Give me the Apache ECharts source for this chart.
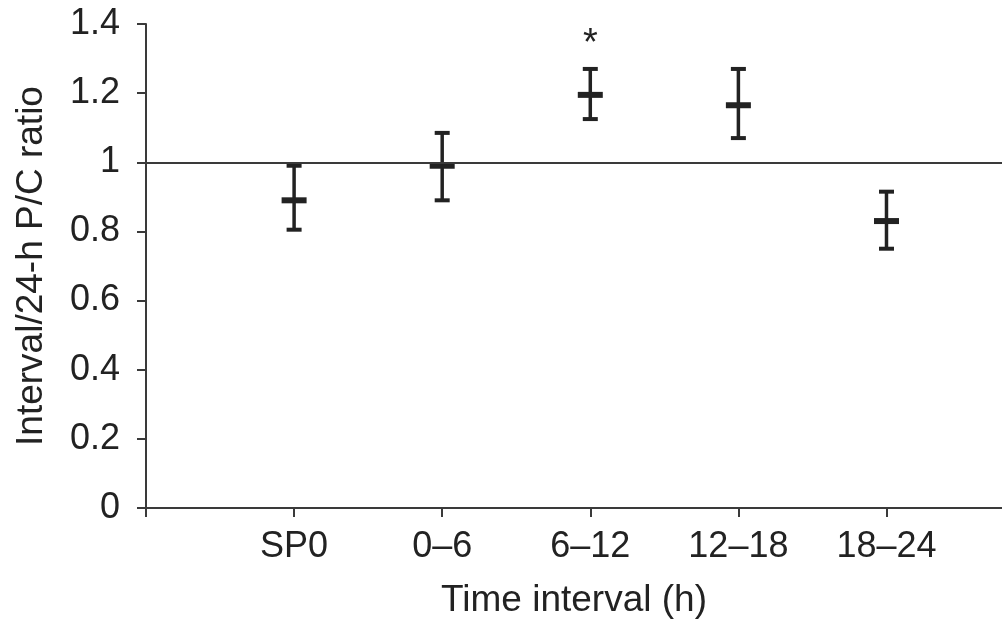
<!DOCTYPE html>
<html>
<head>
<meta charset="utf-8">
<script src="https://cdn.jsdelivr.net/npm/echarts@6/dist/echarts.min.js"></script>
<style>
html,body{margin:0;padding:0;background:#fff;}
#main{width:1002px;height:624px;}
</style>
</head>
<body>
<div id="main"></div>
<script>
const categories = ['SP0', '0–6', '6–12', '12–18', '18–24'];
const means = [0.89, 0.99, 1.195, 1.165, 0.83];
const lower = [0.805, 0.89, 1.125, 1.07, 0.75];
const upper = [0.99, 1.085, 1.27, 1.27, 0.915];
const significance = ['', '', '*', '', ''];
const referenceValue = 1;
const yTickLabels = ['0', '0.2', '0.4', '0.6', '0.8', '1', '1.2', '1.4'];

const FONT = '"Liberation Sans", Arial, Helvetica, sans-serif';
const INK = '#222';
const AXIS = '#3a3a3a';

const chart = echarts.init(document.getElementById('main'), null, {renderer: 'canvas'});

const data = categories.map((c, i) => [i + 1, means[i], lower[i], upper[i], significance[i]]);

chart.setOption({
  animation: false,
  backgroundColor: '#fff',
  grid: {left: 146, right: 0, top: 24, bottom: 116, containLabel: false, outerBoundsMode: 'none'},
  xAxis: {
    type: 'value',
    min: 0,
    max: 5.78,
    interval: 1,
    name: 'Time interval (h)',
    nameLocation: 'middle',
    nameGap: 74,
    nameTextStyle: {fontFamily: FONT, fontSize: 37, color: INK},
    axisLine: {show: true, lineStyle: {color: AXIS, width: 2}},
    axisTick: {show: true, length: 9, lineStyle: {color: AXIS, width: 2}},
    axisLabel: {
      margin: 21,
      fontFamily: FONT, fontSize: 36, color: INK,
      showMaxLabel: false,
      formatter: v => {
        const i = Math.round(v) - 1;
        return (Math.abs(v - Math.round(v)) < 1e-6 && i >= 0 && i < categories.length) ? categories[i] : '';
      }
    },
    splitLine: {show: false}
  },
  yAxis: {
    type: 'value',
    min: 0,
    max: 1.4,
    interval: 0.2,
    name: 'Interval/24-h P/C ratio',
    nameLocation: 'middle',
    nameGap: 96,
    nameRotate: 90,
    nameTextStyle: {fontFamily: FONT, fontSize: 37, color: INK},
    axisLine: {show: true, lineStyle: {color: AXIS, width: 2}},
    axisTick: {show: true, length: 9, lineStyle: {color: AXIS, width: 2}},
    axisLabel: {
      margin: 26,
      fontFamily: FONT, fontSize: 36, color: INK,
      formatter: v => {
        const i = Math.round(v / 0.2);
        return yTickLabels[i] !== undefined ? yTickLabels[i] : '';
      }
    },
    splitLine: {show: false}
  },
  series: [{
    type: 'custom',
    clip: false,
    data: data,
    encode: {x: 0, y: [1, 2, 3]},
    renderItem: function (params, api) {
      const x = api.value(0);
      const pm = api.coord([x, api.value(1)]);
      const pl = api.coord([x, api.value(2)]);
      const ph = api.coord([x, api.value(3)]);
      const sig = significance[params.dataIndex];
      const capW = 15, meanW = 25, meanH = 6;
      const style = {stroke: INK, lineWidth: 3.5};
      const children = [
        {type: 'line', shape: {x1: pm[0], y1: ph[1], x2: pm[0], y2: pl[1]}, style: style},
        {type: 'line', shape: {x1: pm[0] - capW / 2, y1: ph[1], x2: pm[0] + capW / 2, y2: ph[1]}, style: {stroke: INK, lineWidth: 4}},
        {type: 'line', shape: {x1: pm[0] - capW / 2, y1: pl[1], x2: pm[0] + capW / 2, y2: pl[1]}, style: {stroke: INK, lineWidth: 4}},
        {type: 'rect', shape: {x: pm[0] - meanW / 2, y: pm[1] - meanH / 2, width: meanW, height: meanH}, style: {fill: INK}}
      ];
      if (sig) {
        children.push({
          type: 'text',
          style: {
            text: sig, x: pm[0], y: ph[1] - 24,
            align: 'center', verticalAlign: 'middle',
            fontFamily: FONT, fontSize: 38, fill: INK
          }
        });
      }
      return {type: 'group', children: children};
    },
    markLine: {
      silent: true,
      symbol: ['none', 'none'],
      label: {show: false},
      lineStyle: {color: AXIS, width: 2, type: 'solid'},
      data: [{yAxis: referenceValue}]
    }
  }]
});
</script>
</body>
</html>
